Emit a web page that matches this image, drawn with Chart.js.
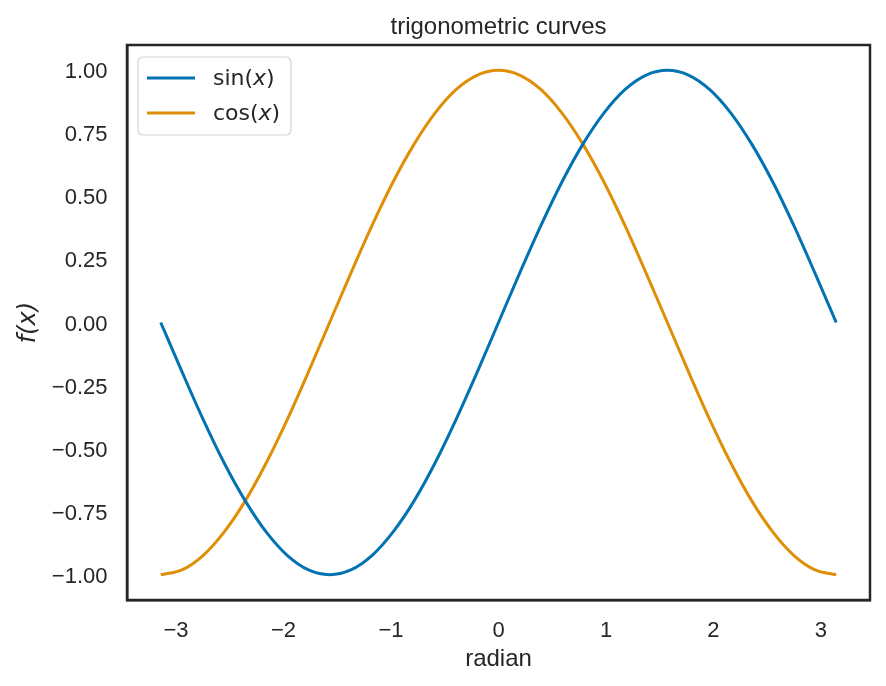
<!DOCTYPE html>
<html>
<head>
<meta charset="utf-8">
<script src="https://cdn.jsdelivr.net/npm/chart.js@4"></script>
<style>
  body { margin: 0; background: #fff; }
  #wrap { width: 886px; height: 686px; position: relative; }
</style>
</head>
<body>
<div id="wrap"><canvas id="trig"></canvas></div>
<script>
// values
const radians = [-3.142, -2.945, -2.749, -2.553, -2.356, -2.160, -1.963, -1.767, -1.571,
  -1.374, -1.178, -0.982, -0.785, -0.589, -0.393, -0.196, 0, 0.196, 0.393, 0.589, 0.785,
  0.982, 1.178, 1.374, 1.571, 1.767, 1.963, 2.160, 2.356, 2.553, 2.749, 2.945, 3.142];
const sinValues = [0, -0.195, -0.383, -0.556, -0.707, -0.831, -0.924, -0.981, -1,
  -0.981, -0.924, -0.831, -0.707, -0.556, -0.383, -0.195, 0, 0.195, 0.383, 0.556, 0.707,
  0.831, 0.924, 0.981, 1, 0.981, 0.924, 0.831, 0.707, 0.556, 0.383, 0.195, 0];
const cosValues = [-1, -0.981, -0.924, -0.831, -0.707, -0.556, -0.383, -0.195, 0,
  0.195, 0.383, 0.556, 0.707, 0.831, 0.924, 0.981, 1, 0.981, 0.924, 0.831, 0.707,
  0.556, 0.383, 0.195, 0, -0.195, -0.383, -0.556, -0.707, -0.831, -0.924, -0.981, -1];
const seriesNames = ['sin', 'cos'];
const xTicks = [-3, -2, -1, 0, 1, 2, 3];
const yTicks = [-1, -0.75, -0.5, -0.25, 0, 0.25, 0.5, 0.75, 1];

const colors = ['#0173b2', '#de8f05'];
const sansFont = '"Liberation Sans", Arial, sans-serif';
const mathFont = '"DejaVu Sans", sans-serif';

function minus(s) { return s.replace('-', '\u2212'); }

function points(ys) {
  return radians.map((x, i) => ({ x: x, y: ys[i] }));
}

// legend box inside the plot, with mathtext-like italic x
const boxLegend = {
  id: 'boxLegend',
  afterDraw(chart) {
    const ctx = chart.ctx;
    const a = chart.chartArea;
    const bx = a.left + 11, by = a.top + 12, bw = 153, bh = 78;
    ctx.save();
    ctx.beginPath();
    ctx.roundRect(bx, by, bw, bh, 5);
    ctx.fillStyle = 'rgba(255,255,255,0.8)';
    ctx.fill();
    ctx.strokeStyle = '#d4d4d4';
    ctx.lineWidth = 1.2;
    ctx.stroke();
    ctx.textBaseline = 'middle';
    seriesNames.forEach((name, i) => {
      const y = by + 21 + i * 35;
      ctx.beginPath();
      ctx.moveTo(bx + 9, y);
      ctx.lineTo(bx + 57, y);
      ctx.strokeStyle = colors[i];
      ctx.lineWidth = 3;
      ctx.stroke();
      let tx = bx + 75;
      ctx.fillStyle = '#262626';
      const parts = [[name + '(', 'normal'], ['x', 'italic'], [')', 'normal']];
      parts.forEach(p => {
        ctx.font = p[1] + ' 22px ' + mathFont;
        ctx.fillText(p[0], tx, y + 1);
        tx += ctx.measureText(p[0]).width;
      });
    });
    ctx.restore();
  }
};

new Chart(document.getElementById('trig'), {
  type: 'line',
  data: {
    datasets: [
      { label: seriesNames[0], data: points(sinValues) },
      { label: seriesNames[1], data: points(cosValues) }
    ].map((d, i) => Object.assign(d, {
      borderColor: colors[i],
      borderWidth: 3,
      pointRadius: 0,
      fill: false,
      cubicInterpolationMode: 'monotone'
    }))
  },
  options: {
    responsive: true,
    maintainAspectRatio: false,
    animation: false,
    layout: { padding: { left: 0, right: 16, top: 0, bottom: 0 } },
    plugins: {
      legend: { display: false },
      tooltip: { enabled: false },
      title: {
        display: true,
        fullSize: false,
        text: 'trigonometric curves',
        color: '#262626',
        font: { family: sansFont, size: 24, weight: 'normal', lineHeight: 1.2 },
        padding: { top: 12.6, bottom: 3.6 }
      }
    },
    scales: {
      x: {
        type: 'linear',
        min: -3.456,
        max: 3.456,
        afterBuildTicks: s => { s.ticks = xTicks.map(v => ({ value: v })); },
        afterFit: s => { s.height = 86; },
        grid: { display: false },
        border: { display: true, color: '#262626', width: 2.5 },
        ticks: {
          color: '#262626',
          padding: 10,
          font: { family: sansFont, size: 22 },
          callback: v => minus(String(v))
        },
        title: {
          display: true,
          text: 'radian',
          color: '#262626',
          font: { family: sansFont, size: 24, lineHeight: 1.2 },
          padding: { top: 0, bottom: 12.4 }
        }
      },
      y: {
        type: 'linear',
        min: -1.1,
        max: 1.1,
        afterBuildTicks: s => { s.ticks = yTicks.map(v => ({ value: v })); },
        afterFit: s => { s.width = 127; },
        grid: { display: false },
        border: { display: true, color: '#262626', width: 2.5 },
        ticks: {
          color: '#262626',
          padding: 11.5,
          labelOffset: 2,
          font: { family: sansFont, size: 22 },
          callback: v => minus(v.toFixed(2))
        },
        title: {
          display: true,
          text: 'f(x)',
          color: '#262626',
          font: { family: mathFont, size: 24, style: 'italic', lineHeight: 1.2 },
          padding: { top: 14, bottom: 0 }
        }
      }
    }
  },
  plugins: [boxLegend, {
    id: 'frame',
    afterDraw(chart) {
      const a = chart.chartArea, ctx = chart.ctx;
      ctx.save();
      ctx.strokeStyle = '#262626';
      ctx.lineWidth = 2.5;
      ctx.strokeRect(a.left, a.top, a.right - a.left, a.bottom - a.top);
      ctx.restore();
    }
  }]
});
</script>
</body>
</html>
